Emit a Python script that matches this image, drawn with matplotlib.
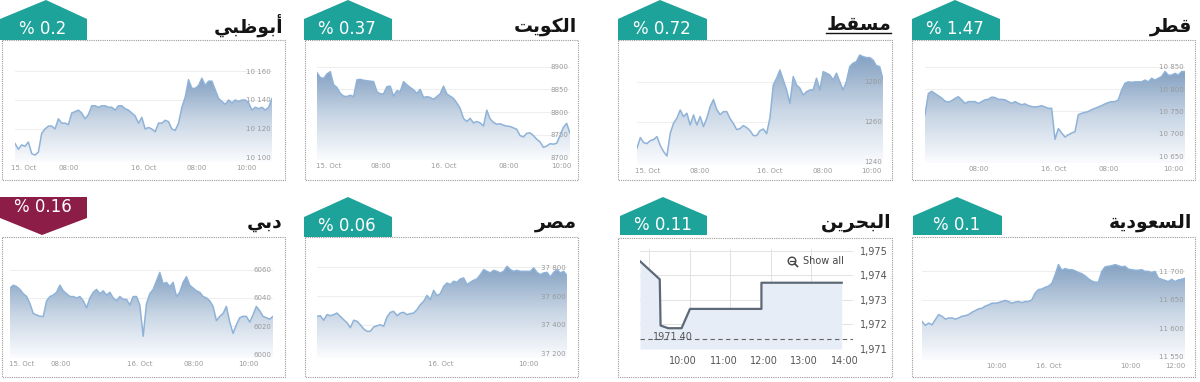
"""Gulf & Arab market mini charts (8 panels) rebuilt with matplotlib."""

import matplotlib

matplotlib.use("Agg")
import matplotlib.pyplot as plt
import numpy as np
from matplotlib.colors import LinearSegmentedColormap
from matplotlib.patches import Circle, Polygon, Rectangle

# ---- data ---------------------------------------------------------------
names = ["أبوظبي", "الكويت", "مسقط", "قطر", "دبي", "مصر", "البحرين", "السعودية"]
changes = ["0.2", "0.37", "0.72", "1.47", "0.16", "0.06", "0.11", "0.1"]
directions = ["up", "up", "up", "up", "down", "up", "up", "up"]

abudhabi = [10110, 10106, 10109, 10108, 10111, 10103, 10102, 10104, 10117, 10120,
            10122, 10122, 10120, 10127, 10124, 10124, 10123, 10131, 10132, 10133,
            10131, 10127, 10130, 10136, 10136, 10135, 10136, 10136, 10135, 10135,
            10133, 10136, 10136, 10134, 10133, 10131, 10129, 10124, 10128, 10120,
            10121, 10120, 10118, 10124, 10124, 10126, 10125, 10120, 10119, 10124,
            10135, 10142, 10154, 10148, 10148, 10150, 10155, 10150, 10153, 10153,
            10147, 10141, 10139, 10137, 10140, 10138, 10140, 10139, 10140, 10140,
            10138, 10133, 10135, 10134, 10135, 10133, 10135, 10141]
abudhabi_yticks = [10100, 10120, 10140, 10160]
abudhabi_xticks = [2.5, 16, 38.5, 54.5, 69.3]
abudhabi_xlabels = ["15. Oct", "08:00", "16. Oct", "08:00", "10:00"]

kuwait = [8887, 8876, 8874, 8884, 8889, 8860, 8854, 8841, 8835, 8834,
          8837, 8834, 8871, 8872, 8870, 8869, 8868, 8867, 8845, 8840,
          8840, 8856, 8857, 8835, 8847, 8845, 8867, 8860, 8854, 8849,
          8841, 8850, 8832, 8834, 8832, 8828, 8834, 8840, 8857, 8840,
          8835, 8830, 8820, 8808, 8786, 8779, 8786, 8776, 8779, 8776,
          8769, 8804, 8785, 8777, 8773, 8774, 8771, 8769, 8768, 8765,
          8762, 8748, 8745, 8753, 8754, 8748, 8740, 8734, 8722, 8725,
          8730, 8729, 8731, 8748, 8766, 8775, 8753]
kuwait_yticks = [8700, 8750, 8800, 8850, 8900]
kuwait_xticks = [3.5, 19, 38, 57.5, 73.5]
kuwait_xlabels = ["15. Oct", "08:00", "16. Oct", "08:00", "10:00"]

muscat = [1246.7, 1252, 1249.5, 1249, 1250.5, 1251, 1252.5, 1248, 1245, 1242.8,
          1254.2, 1259.2, 1261.7, 1265.8, 1262.5, 1264.2, 1258.3, 1263.3, 1258.3, 1262.5,
          1257.5, 1261.7, 1267.5, 1271, 1266, 1263.5, 1265, 1265, 1261.5, 1259,
          1256, 1256.5, 1258, 1257, 1255.5, 1253, 1253, 1255.5, 1256.3, 1254,
          1262, 1278.3, 1281.7, 1285.8, 1280.8, 1275.8, 1269.2, 1282.5, 1278.3, 1276.7,
          1273.3, 1275, 1275.8, 1275.8, 1281.7, 1275.8, 1285, 1284.2, 1283.3, 1280.8,
          1284.2, 1280, 1275.8, 1280, 1287.5, 1289.2, 1290, 1293.3, 1292.5, 1292,
          1292, 1290.8, 1288, 1287.5, 1281]
muscat_yticks = [1240, 1260, 1280]
muscat_xticks = [3.2, 18.8, 39.8, 56, 70.5]
muscat_xlabels = ["15. Oct", "08:00", "16. Oct", "08:00", "10:00"]

qatar = [10743, 10790, 10795, 10790, 10785, 10780, 10773, 10771, 10774, 10779,
         10783, 10776, 10768, 10772, 10772, 10772, 10768, 10772, 10776, 10777,
         10782, 10781, 10777, 10777, 10776, 10772, 10768, 10772, 10768, 10765,
         10767, 10763, 10761, 10760, 10761, 10763, 10760, 10757, 10757, 10688,
         10712, 10702, 10693, 10698, 10702, 10705, 10743, 10746, 10748, 10750,
         10754, 10757, 10760, 10763, 10767, 10770, 10772, 10772, 10776, 10798,
         10813, 10816, 10815, 10816, 10816, 10816, 10820, 10816, 10824, 10820,
         10824, 10828, 10839, 10831, 10831, 10835, 10831, 10839, 10839]
qatar_yticks = [10650, 10700, 10750, 10800, 10850]
qatar_xticks = [16, 38.5, 55, 74.5]
qatar_xlabels = ["08:00", "16. Oct", "08:00", "10:00"]

dubai = [6047, 6049, 6048, 6046, 6043, 6041, 6036, 6029, 6028, 6027,
         6027, 6038, 6041, 6042, 6044, 6049, 6045, 6043, 6041, 6041,
         6040, 6041, 6038, 6033, 6040, 6044, 6046, 6043, 6045, 6042,
         6044, 6040, 6038, 6041, 6039, 6039, 6035, 6041, 6041, 6035,
         6013, 6036, 6043, 6046, 6052, 6058, 6050, 6051, 6048, 6051,
         6041, 6044, 6051, 6055, 6049, 6047, 6045, 6044, 6041, 6040,
         6038, 6034, 6024, 6027, 6029, 6034, 6023, 6015, 6021, 6026,
         6027, 6027, 6023, 6028, 6034, 6031, 6027, 6026, 6025, 6027]
dubai_yticks = [6000, 6020, 6040, 6060]
dubai_xticks = [3.5, 15.2, 39, 55.2, 71.5]
dubai_xlabels = ["15. Oct", "08:00", "16. Oct", "08:00", "10:00"]

egypt = [37459, 37464, 37432, 37471, 37464, 37471, 37482, 37459, 37436, 37415,
         37380, 37432, 37425, 37401, 37371, 37355, 37355, 37385, 37394, 37401,
         37390, 37455, 37487, 37494, 37464, 37482, 37487, 37471, 37478, 37482,
         37506, 37540, 37564, 37605, 37575, 37640, 37603, 37617, 37668, 37691,
         37680, 37703, 37696, 37719, 37726, 37680, 37696, 37710, 37719, 37749,
         37784, 37772, 37761, 37779, 37772, 37761, 37772, 37807, 37784, 37772,
         37779, 37772, 37772, 37772, 37772, 37796, 37765, 37749, 37761, 37765,
         37733, 37765, 37784, 37761, 37772, 37742]
egypt_yticks = [37200, 37400, 37600, 37800]
egypt_xticks = [37, 63.5]
egypt_xlabels = ["16. Oct", "10:00"]

saudi = [11612, 11605, 11609, 11606, 11615, 11624, 11621, 11616, 11618, 11618,
         11616, 11618, 11621, 11622, 11624, 11628, 11631, 11634, 11635, 11639,
         11641, 11644, 11644, 11645, 11647, 11649, 11647, 11644, 11646, 11647,
         11645, 11647, 11647, 11650, 11662, 11668, 11669, 11672, 11674, 11679,
         11694, 11712, 11702, 11705, 11703, 11703, 11701, 11698, 11696, 11692,
         11687, 11683, 11681, 11681, 11700, 11708, 11709, 11710, 11712, 11710,
         11708, 11709, 11704, 11703, 11702, 11702, 11703, 11700, 11700, 11698,
         11700, 11688, 11686, 11684, 11682, 11686, 11682, 11685, 11686, 11688]
saudi_yticks = [11550, 11600, 11650, 11700]
saudi_xticks = [22.2, 38.2, 62.5, 76]
saudi_xlabels = ["10:00", "16. Oct", "10:00", "12:00"]

# Bahrain: intraday hours and index level
bahrain_time = [8.93, 9.42, 9.44, 9.63, 9.96, 10.17, 11.94, 11.94, 13.93]
bahrain = [1974.57, 1973.83, 1971.94, 1971.83, 1971.83, 1972.62, 1972.62, 1973.69, 1973.69]
bahrain_ref = 1971.40
bahrain_yticks = [1971, 1972, 1973, 1974, 1975]
bahrain_xticks = [10, 11, 12, 13, 14]
bahrain_grid = [9.16, 10.17, 11.17, 12.17, 13.18]

# ---- helpers ------------------------------------------------------------
W, H = 1200, 382
TEAL = "#1ea39b"
MAROON = "#8c1d47"
LINE = "#8fb3d8"
TICK = "#9a9a9a"
FADE = LinearSegmentedColormap.from_list("fade", ["#fbfcfe", "#c9d6e5", "#84a1c2"])

# isolated, final, initial, medial presentation forms
FORMS = {
    "ا": ("\uFE8D", "\uFE8E", None, None),
    "أ": ("\uFE83", "\uFE84", None, None),
    "ب": ("\uFE8F", "\uFE90", "\uFE91", "\uFE92"),
    "ة": ("\uFE93", "\uFE94", None, None),
    "ت": ("\uFE95", "\uFE96", "\uFE97", "\uFE98"),
    "ح": ("\uFEA1", "\uFEA2", "\uFEA3", "\uFEA4"),
    "د": ("\uFEA9", "\uFEAA", None, None),
    "ر": ("\uFEAD", "\uFEAE", None, None),
    "س": ("\uFEB1", "\uFEB2", "\uFEB3", "\uFEB4"),
    "ص": ("\uFEB9", "\uFEBA", "\uFEBB", "\uFEBC"),
    "ط": ("\uFEC1", "\uFEC2", "\uFEC3", "\uFEC4"),
    "ظ": ("\uFEC5", "\uFEC6", "\uFEC7", "\uFEC8"),
    "ع": ("\uFEC9", "\uFECA", "\uFECB", "\uFECC"),
    "ق": ("\uFED5", "\uFED6", "\uFED7", "\uFED8"),
    "ك": ("\uFED9", "\uFEDA", "\uFEDB", "\uFEDC"),
    "ل": ("\uFEDD", "\uFEDE", "\uFEDF", "\uFEE0"),
    "م": ("\uFEE1", "\uFEE2", "\uFEE3", "\uFEE4"),
    "ن": ("\uFEE5", "\uFEE6", "\uFEE7", "\uFEE8"),
    "و": ("\uFEED", "\uFEEE", None, None),
    "ي": ("\uFEF1", "\uFEF2", "\uFEF3", "\uFEF4"),
}


def shape_arabic(word: str) -> str:
    # matplotlib has no shaping / bidi, so pick joined forms and reverse
    out = []
    for i, ch in enumerate(word):
        iso, fin, ini, med = FORMS[ch]
        joins_prev = i > 0 and FORMS[word[i - 1]][2] is not None
        joins_next = i < len(word) - 1 and ini is not None
        if joins_prev and joins_next:
            out.append(med)
        elif joins_prev:
            out.append(fin)
        elif joins_next:
            out.append(ini)
        else:
            out.append(iso)
    return "".join(reversed(out))


def fmt_value(v):
    return f"{v:,}".replace(",", " ") if v >= 10000 else str(v)


def px_axes(left, top, right, bottom):
    return fig.add_axes([left / W, 1 - bottom / H, (right - left) / W, (bottom - top) / H])


def area_chart(rect, values, ylim, yticks, xticks, xlabels):
    ax = px_axes(*rect)
    ax.set_facecolor("none")
    vals = np.asarray(values, dtype=float)
    x = np.arange(len(vals))
    for v in yticks:
        ax.axhline(v, color="#ebebeb", lw=0.6, zorder=0.5)
    poly = ax.fill_between(x, vals, ylim[0], color="none", lw=0)
    img = ax.imshow(np.linspace(1, 0, 256).reshape(-1, 1), cmap=FADE, aspect="auto",
                    extent=[0, len(vals) - 1, ylim[0], vals.max()], zorder=1)
    img.set_clip_path(poly.get_paths()[0], transform=ax.transData)
    ax.plot(x, vals, color=LINE, lw=1.1, zorder=2)
    ax.set_xlim(0, len(vals) - 1)
    ax.set_ylim(*ylim)
    ax.yaxis.tick_right()
    ax.set_yticks(yticks, [fmt_value(v) for v in yticks])
    ax.set_xticks(xticks, xlabels)
    ax.tick_params(length=0, labelsize=5, labelcolor=TICK)
    ax.tick_params(axis="y", pad=-1)
    ax.tick_params(axis="x", pad=2)
    plt.setp(ax.get_yticklabels(), ha="right")
    for s in ax.spines.values():
        s.set_visible(False)
    return ax


fig = plt.figure(figsize=(W / 100, H / 100), dpi=100)
bg = fig.add_axes([0, 0, 1, 1])
bg.set_xlim(0, W)
bg.set_ylim(H, 0)
bg.axis("off")

# ---- frames, badges, titles --------------------------------------------
boxes = [(2, 40, 285, 180), (305, 40, 578, 180), (618, 40, 892, 180), (912, 40, 1195, 180),
         (2, 237, 285, 377), (305, 237, 578, 377), (618, 238, 892, 377), (912, 237, 1195, 377)]
badges = [(0, 87, 46, 0, 19, 40), (304, 392, 348, 0, 19, 40), (618, 707, 660, 0, 19, 40),
          (912, 1000, 955, 0, 19, 40), (0, 87, 42, 197, 218, 235), (304, 392, 348, 197, 217, 237),
          (620, 707, 663, 197, 216, 235), (913, 1002, 957, 197, 216, 235)]
title_pos = [(283, 25), (577, 26), (891, 25), (1192, 26),
             (283, 223), (577, 222), (891, 222), (1192, 222)]

titles = []
for box, badge, (tx, ty), name, pct, way in zip(boxes, badges, title_pos, names, changes, directions):
    x0, y0, x1, y1 = box
    bg.add_patch(Rectangle((x0, y0), x1 - x0, y1 - y0, fill=False, ec="#9a9a9a",
                           lw=0.8, ls=(0, (1, 1))))
    bx0, bx1, bxm, top, shoulder, bottom = badge
    if way == "up":
        pts = [(bx0, bottom), (bx0, shoulder), (bxm, top), (bx1, shoulder), (bx1, bottom)]
        ty_badge = (shoulder + bottom) / 2 - 1
        color = TEAL
    else:
        pts = [(bx0, top), (bx1, top), (bx1, shoulder), (bxm, bottom), (bx0, shoulder)]
        ty_badge = (top + shoulder) / 2
        color = MAROON
    bg.add_patch(Polygon(pts, closed=True, fc=color, ec="none", zorder=3))
    bg.text((bx0 + bx1) / 2 - 1, ty_badge, f"% {pct}", ha="center", va="center",
            color="white", fontsize=12, zorder=4)
    titles.append(bg.text(tx, ty, shape_arabic(name), ha="right", va="center", fontsize=13.5,
                          fontweight="bold", family="DejaVu Sans", color="#141414"))

# ---- charts -------------------------------------------------------------
area_chart((15, 50, 272, 162), abudhabi, (10097.2, 10174.5),
           abudhabi_yticks, abudhabi_xticks, abudhabi_xlabels)
area_chart((317, 50, 570, 160), kuwait, (8694.1, 8936.8),
           kuwait_yticks, kuwait_xticks, kuwait_xlabels)
area_chart((637, 50, 883, 165), muscat, (1238.3, 1295.8),
           muscat_yticks, muscat_xticks, muscat_xlabels)
area_chart((925, 50, 1185, 163), qatar, (10635.2, 10887),
           qatar_yticks, qatar_xticks, qatar_xlabels)
area_chart((10, 243, 273, 358), dubai, (5997.6, 6078.8),
           dubai_yticks, dubai_xticks, dubai_xlabels)
area_chart((317, 243, 567, 358), egypt, (37169.7, 37969),
           egypt_yticks, egypt_xticks, egypt_xlabels)
area_chart((922, 243, 1185, 360), saudi, (11544, 11750),
           saudi_yticks, saudi_xticks, saudi_xlabels)

# Bahrain uses a different (step) widget
ax = px_axes(640, 249, 853, 349)
ax.set_facecolor("none")
ax.set_xlim(8.93, 14.21)
ax.set_ylim(1970.98, 1975.07)
for t in bahrain_grid:
    ax.axvline(t, color="#e2e2e2", lw=0.7, zorder=0)
for v in bahrain_yticks:
    ax.axhline(v, color="#e2e2e2", lw=0.7, zorder=0)
ax.fill_between(bahrain_time, bahrain, 1970.98, color="#e6edf6", lw=0, zorder=1)
ax.plot(bahrain_time, bahrain, color="#5d6976", lw=1.6, zorder=3)
ax.axhline(bahrain_ref, color="#666666", lw=0.8, ls=(0, (4, 3)), zorder=2)
ax.text(9.26, bahrain_ref + 0.06, f"{bahrain_ref:.2f}", ha="left", va="center",
        fontsize=7, color="#555555", zorder=4)
ax.text(0.765, 0.88, "Show all", transform=ax.transAxes, ha="left", va="center",
        fontsize=7, color="#444444")
ax.add_patch(Circle((792, 261), 3.8, transform=bg.transData, fill=False,
                    ec="#444444", lw=1, clip_on=False))
ax.plot([790, 794], [261, 261], transform=bg.transData, color="#444444", lw=0.9, clip_on=False)
ax.plot([794.7, 797.5], [263.7, 266.5], transform=bg.transData, color="#444444", lw=1.2,
        clip_on=False)
ax.yaxis.tick_right()
ax.set_yticks(bahrain_yticks, [f"{v:,}" for v in bahrain_yticks])
ax.set_xticks(bahrain_xticks, [f"{h}:00" for h in bahrain_xticks])
ax.tick_params(length=0, labelsize=7, labelcolor="#555555")
ax.tick_params(axis="y", pad=5)
ax.tick_params(axis="x", pad=5)
for s in ax.spines.values():
    s.set_visible(False)

# Muscat title is underlined: measure the rendered word
fig.canvas.draw()
bb = titles[2].get_window_extent().transformed(bg.transData.inverted())
y_line = max(bb.y0, bb.y1) - 1.5
bg.plot([bb.x0, bb.x1], [y_line, y_line], color="#141414", lw=1)

fig.savefig("out.png", dpi=100)
